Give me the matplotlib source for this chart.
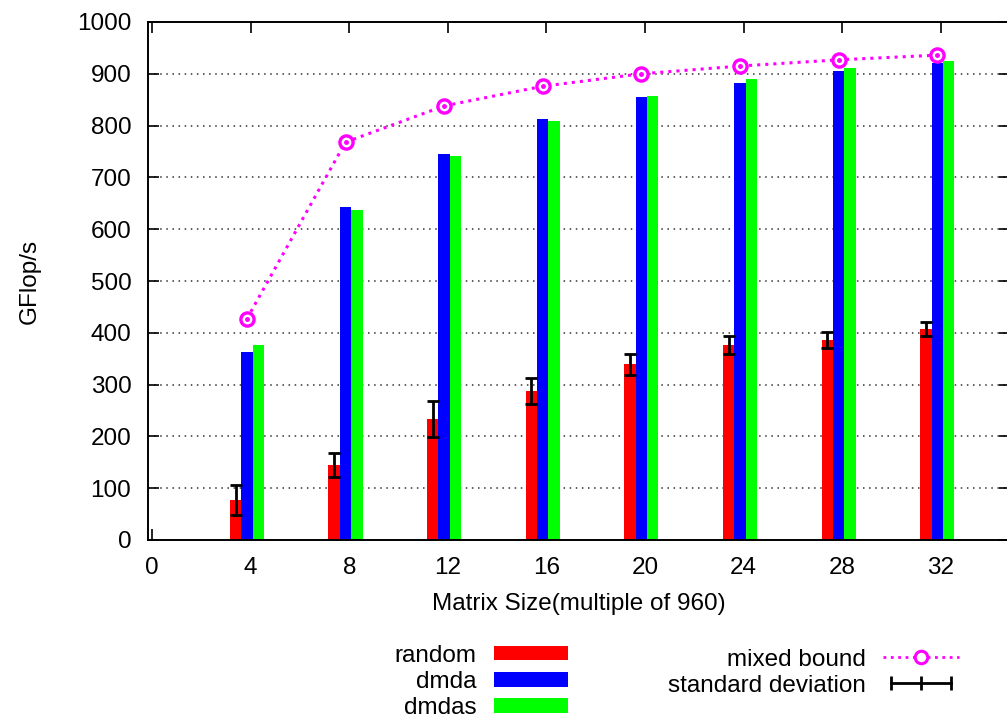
import matplotlib
matplotlib.use("Agg")
import matplotlib.pyplot as plt
from matplotlib.patches import Patch
from matplotlib.lines import Line2D
from matplotlib.legend_handler import HandlerLine2D
import numpy as np

plt.rcParams['font.family'] = ['Liberation Sans', 'DejaVu Sans']

# Matrix sizes (multiples of 960)
sizes = [4, 8, 12, 16, 20, 24, 28, 32]

# Measured performance in GFlop/s
random_perf = [78, 145, 234, 288, 339, 376, 386, 407]
random_std = [29, 23, 35, 25, 21, 17, 16, 14]
dmda_perf = [363, 643, 746, 813, 855, 882, 906, 920]
dmdas_perf = [376, 637, 741, 809, 857, 889, 912, 925]
mixed_bound = [427, 768, 838, 876, 900, 915, 927, 936]

y_ticks = [0, 100, 200, 300, 400, 500, 600, 700, 800, 900, 1000]
x_ticks = [0, 4, 8, 12, 16, 20, 24, 28, 32]

FS = 17.5
W, H = 1007, 719
fig = plt.figure(figsize=(W / 100, H / 100), dpi=100)
# the frame runs slightly past the right edge of the canvas
left_px, right_px, top_px, bottom_px = 148, 1010, 22, 540
ax = fig.add_axes([left_px / W, 1 - bottom_px / H,
                   (right_px - left_px) / W, (bottom_px - top_px) / H])

x = np.array(sizes, dtype=float)
w = 0.46
off_r, off_b, off_g = -0.61, -0.15, 0.31

ax.bar(x + off_r, random_perf, width=w, color='#ff0000', zorder=2, linewidth=0)
ax.bar(x + off_b, dmda_perf, width=w, color='#0000ff', zorder=2, linewidth=0)
ax.bar(x + off_g, dmdas_perf, width=w, color='#00ff00', zorder=2, linewidth=0)

ax.errorbar(x + off_r, random_perf, yerr=random_std, fmt='none', ecolor='black',
            elinewidth=2, capsize=4, capthick=2, zorder=3)

ax.plot(x + off_b, mixed_bound, color='#ff00ff', linestyle=':', linewidth=2.2,
        marker='o', markersize=9.5, markerfacecolor='white', markeredgecolor='#ff00ff',
        markeredgewidth=2.4, zorder=4)
ax.plot(x + off_b, mixed_bound, linestyle='none', marker='o', markersize=2.5,
        color='#ff00ff', zorder=5)

ax.set_xlim(-0.16, 34.8)
ax.set_ylim(0, 1000)
ax.set_xticks(x_ticks)
ax.set_yticks(y_ticks)
ax.tick_params(axis='both', direction='in', labelsize=FS, length=8, width=1.2, pad=12)
ax.tick_params(axis='x', top=True, labeltop=False)
ax.tick_params(axis='y', right=True, labelright=False)
ax.yaxis.grid(True, linestyle=(0, (1, 3)), color='#333333', linewidth=1.1, zorder=0)
ax.set_axisbelow(True)
for sp in ax.spines.values():
    sp.set_linewidth(1.4)

ax.set_xlabel('Matrix Size(multiple of 960)', fontsize=FS, labelpad=10)
fig.text(0.030, 0.609, 'GFlop/s', rotation=90, fontsize=FS, ha='center', va='center')

bar_handles = [Patch(facecolor='#ff0000', label='random'),
               Patch(facecolor='#0000ff', label='dmda'),
               Patch(facecolor='#00ff00', label='dmdas')]
leg1 = fig.legend(handles=bar_handles, loc='lower right',
                  bbox_to_anchor=(0.564, 0.0), bbox_transform=fig.transFigure,
                  frameon=False, markerfirst=False, fontsize=FS, handlelength=3.05,
                  handleheight=0.55, labelspacing=0.17, handletextpad=0.7,
                  borderaxespad=0, borderpad=0)

bound_handle = Line2D([], [], color='#ff00ff', linestyle=':', linewidth=2,
                      marker='o', markersize=9, markerfacecolor='white',
                      markeredgecolor='#ff00ff', markeredgewidth=2.2)
std_handle = Line2D([], [], color='black', linewidth=2, marker='|', markersize=10,
                    markeredgewidth=2)
leg2 = fig.legend(handles=[bound_handle, std_handle],
                  labels=['mixed bound', 'standard deviation'],
                  loc='lower right', bbox_to_anchor=(0.952, 0.031),
                  bbox_transform=fig.transFigure,
                  frameon=False, markerfirst=False, fontsize=FS,
                  handlelength=3.1, labelspacing=0.17, handletextpad=0.7,
                  borderaxespad=0, borderpad=0, numpoints=3,
                  handler_map={bound_handle: HandlerLine2D(numpoints=1)})

fig.savefig('out.png', dpi=100)
